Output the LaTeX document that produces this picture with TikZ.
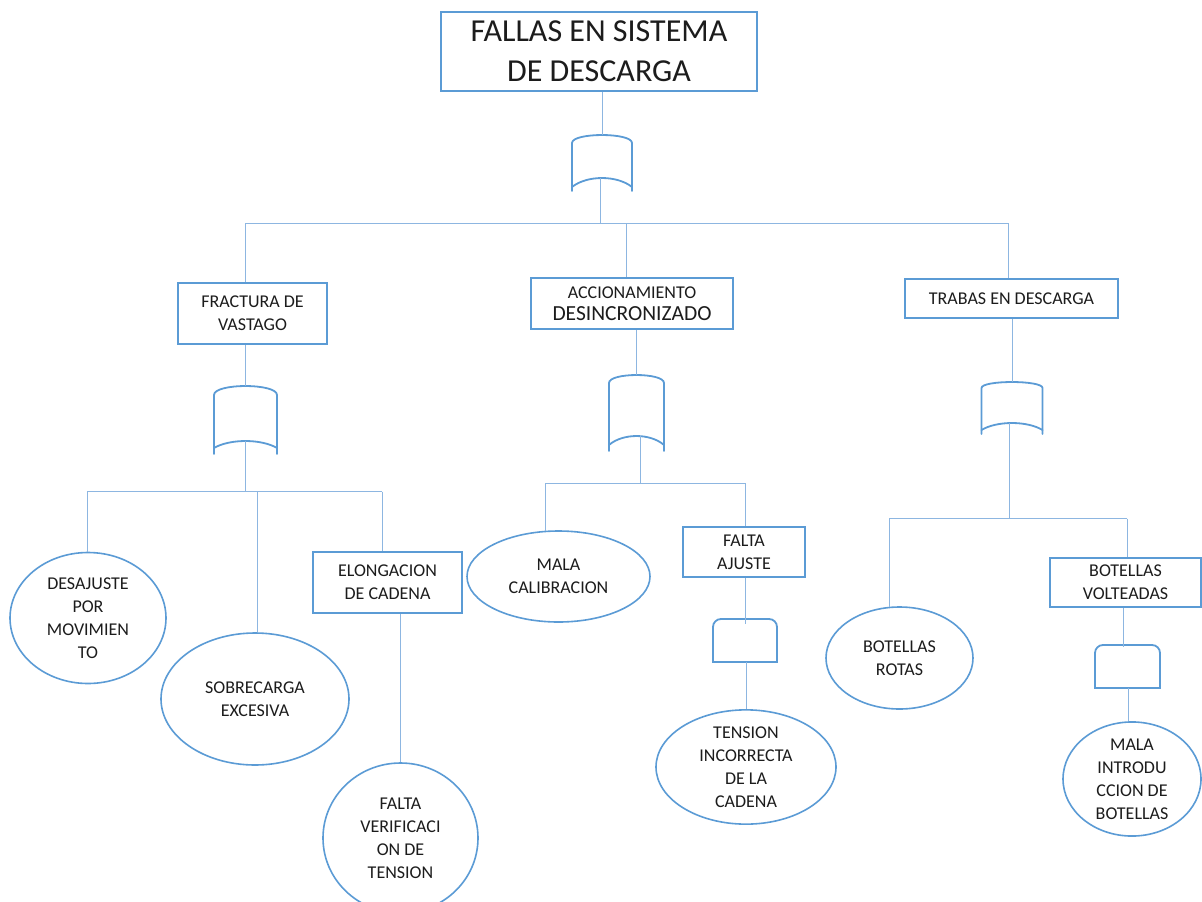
\documentclass[tikz,border=0pt]{standalone}
\usepackage{fontspec}
\setmainfont{Carlito}
\usetikzlibrary{shapes.geometric,calc}

\definecolor{boxblue}{HTML}{5B9BD5}
\definecolor{wireblue}{HTML}{8DB6E1}
\definecolor{inkgray}{HTML}{1C1C1C}

\tikzset{
  x=1pt, y=-1pt,
  labeltext/.style={text=inkgray, align=center, font=\fontsize{18}{23}\selectfont},
  eventbox/.style={labeltext, draw=boxblue, line width=1.6pt, fill=white, inner sep=0pt},
  basicevent/.style={labeltext, ellipse, draw=boxblue, line width=1.6pt, fill=white, inner sep=0pt},
  wire/.style={draw=wireblue, line width=1pt},
  gateline/.style={draw=boxblue, line width=1.8pt, line cap=round},
  % OR gate: half width, side height, top rise, bottom rise, side tails
  pics/orgate/.style n args={5}{code={
    \draw[gateline] (-#1,#2+#5) -- (-#1,0)
      .. controls (-#1,-1.33*#3) and (#1,-1.33*#3) .. (#1,0) -- (#1,#2+#5);
    \draw[gateline] (-#1,#2)
      .. controls (-#1/2,#2-1.33*#4) and (#1/2,#2-1.33*#4) .. (#1,#2);
    \coordinate (-top) at (0,-#3);
    \coordinate (-bot) at (0,#2-#4);
  }},
  % AND gate: half width, height
  pics/andgate/.style n args={2}{code={
    \draw[gateline] (-#1,#2) -- (-#1,8) arc (180:90:8pt) -- (#1-8,0)
      arc (90:0:8pt) -- (#1,#2) -- cycle;
    \coordinate (-top) at (0,0);
    \coordinate (-bot) at (0,#2);
  }}
}

\begin{document}
\begin{tikzpicture}
\useasboundingbox (0,0) rectangle (1202,902);

% top event
\node[eventbox, minimum width=316pt, minimum height=79pt,
      font=\fontsize{32}{40}\selectfont] (title) at (599,51.5)
      {FALLAS EN SISTEMA\\DE DESCARGA};

% intermediate events
\node[eventbox, minimum width=149pt, minimum height=61pt] (frac) at (252.5,313.5)
      {FRACTURA DE\\VASTAGO};
\node[eventbox, minimum width=202pt, minimum height=51pt] (acc) at (632,303.5)
      {ACCIONAMIENTO\\[-1pt]{\fontsize{21.5}{24}\selectfont DESINCRONIZADO}};
\node[eventbox, minimum width=213pt, minimum height=39pt] (trab) at (1011.5,298.5)
      {TRABAS EN DESCARGA};
\node[eventbox, minimum width=149pt, minimum height=61pt] (elong) at (387.5,582.5)
      {ELONGACION\\DE CADENA};
\node[eventbox, minimum width=122pt, minimum height=50pt] (ajuste) at (744,552)
      {FALTA\\AJUSTE};
\node[eventbox, minimum width=151pt, minimum height=49pt] (volt) at (1125.5,582.5)
      {BOTELLAS\\VOLTEADAS};

% basic events
\node[basicevent, minimum width=156pt, minimum height=131pt] (desaj) at (88,618)
      {DESAJUSTE\\POR\\MOVIMIEN\\TO};
\node[basicevent, minimum width=188pt, minimum height=132pt] (sobre) at (255,699)
      {SOBRECARGA\\EXCESIVA};
\node[basicevent, minimum width=155pt, minimum height=150pt] (verif) at (400.5,838)
      {FALTA\\VERIFICACI\\ON DE\\TENSION};
\node[basicevent, minimum width=183pt, minimum height=91pt] (calib) at (558.5,576.5)
      {MALA\\CALIBRACION};
\node[basicevent, minimum width=180pt, minimum height=110pt] (tension) at (746,767)
      {TENSION\\INCORRECTA\\DE LA\\CADENA};
\node[basicevent, minimum width=147pt, minimum height=102pt] (rotas) at (899.5,658)
      {BOTELLAS\\ROTAS};
\node[basicevent, minimum width=138pt, minimum height=107pt] (intro) at (1132,779)
      {MALA\\INTRODU\\CCION DE\\BOTELLAS};

% gates
\pic (g1) at (602,143) {orgate={30}{44}{8}{9}{4}};
\pic (g2) at (245.5,395) {orgate={31.5}{53}{9}{7}{6}};
\pic (g3) at (636.5,383) {orgate={27.5}{62}{8}{9}{6}};
\pic (g4) at (1012,388) {orgate={30.5}{42}{6}{7}{4}};
\pic (g5) at (745,619) {andgate={32}{43}};
\pic (g6) at (1127.5,645) {andgate={32.5}{43}};

% bus junctions
\coordinate (b1l) at (245,223);
\coordinate (b1c) at (626,223);
\coordinate (b1r) at (1008,223);
\coordinate (b2l) at (87,491.5);
\coordinate (b2c) at (257,491.5);
\coordinate (b2r) at (382,491.5);
\coordinate (b3l) at (545,483);
\coordinate (b3r) at (745,483);
\coordinate (b4l) at (889,518.5);
\coordinate (b4r) at (1127,518.5);

% level 1
\draw[wire] (g1-top |- title.south) -- (g1-top);
\draw[wire] ($(g1-bot)+(-2,0)$) -- ($(g1-bot |- b1l)+(-2,0)$);
\draw[wire] (b1l) -- (b1r);
\draw[wire] (b1l) -- (b1l |- frac.north);
\draw[wire] (b1c) -- (b1c |- acc.north);
\draw[wire] (b1r) -- (b1r |- trab.north);

% fractura de vastago
\draw[wire] (g2-top |- frac.south) -- (g2-top);
\draw[wire] (g2-bot) -- (g2-bot |- b2l);
\draw[wire] (b2l) -- (b2r);
\draw[wire] (b2l) -- (b2l |- desaj.north);
\draw[wire] (b2c) -- (b2c |- sobre.north);
\draw[wire] (b2r) -- (b2r |- elong.north);
\draw[wire] (verif.north |- elong.south) -- (verif.north);

% accionamiento desincronizado
\draw[wire] (g3-top |- acc.south) -- (g3-top);
\draw[wire] ($(g3-bot)+(4,0)$) -- ($(g3-bot |- b3l)+(4,0)$);
\draw[wire] (b3l) -- (b3r);
\draw[wire] (b3l) -- ($(b3l |- calib.north)+(0,1)$);
\draw[wire] (b3r) -- (b3r |- ajuste.north);
\draw[wire] (g5-top |- ajuste.south) -- ($(g5-top)+(0,5)$);
\draw[wire] (tension.north |- g5-bot) -- (tension.north);

% trabas en descarga
\draw[wire] (g4-top |- trab.south) -- (g4-top);
\draw[wire] ($(g4-bot)+(-3,0)$) -- ($(g4-bot |- b4l)+(-3,0)$);
\draw[wire] (b4l) -- (b4r);
\draw[wire] (b4l) -- ($(b4l |- rotas.north)+(0,1)$);
\draw[wire] (b4r) -- (b4r |- volt.north);
\draw[wire] ($(volt.south)+(-2.5,0)$) -- ($(g6-top)+(-4.5,2)$);
\draw[wire] ($(g6-bot)+(0.5,0)$) -- ($(intro.north)+(-4,0)$);
\end{tikzpicture}
\end{document}
